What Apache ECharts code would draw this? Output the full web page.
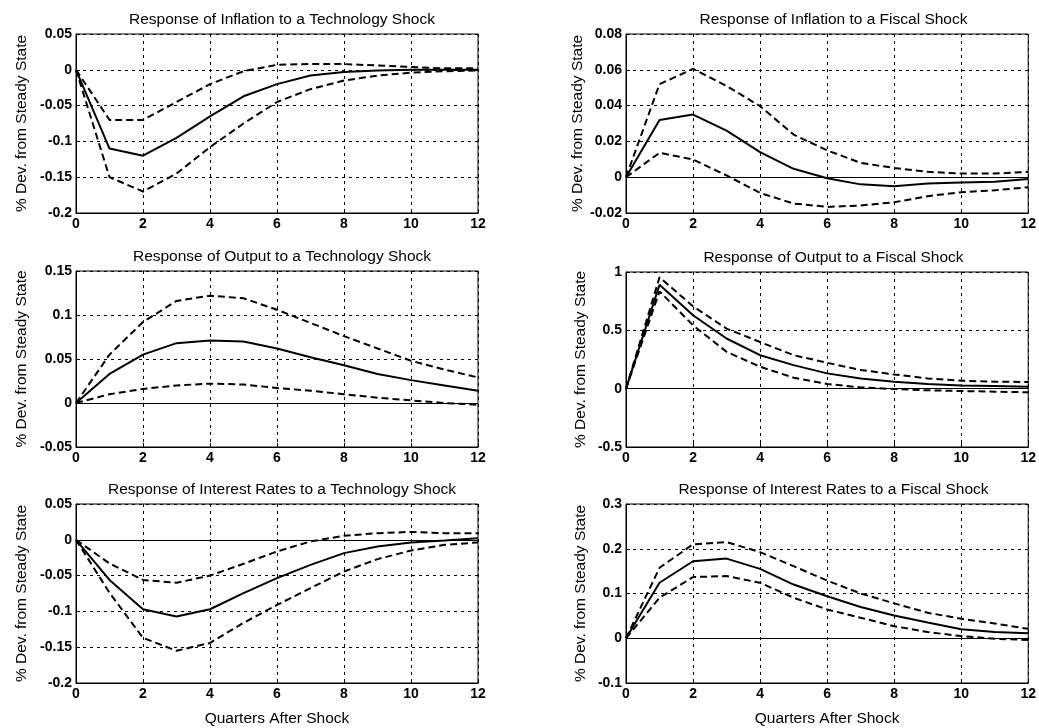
<!DOCTYPE html>
<html>
<head>
<meta charset="utf-8">
<script src="https://cdn.jsdelivr.net/npm/echarts@6/dist/echarts.min.js"></script>
<style>
html,body{margin:0;padding:0;background:#fff;}
#chart{width:1039px;height:728px;}
</style>
</head>
<body>
<div id="chart"></div>
<script>
const quarters = [0,1,2,3,4,5,6,7,8,9,10,11,12];
const xTicks = [0,2,4,6,8,10,12];

const titles = [
  "Response of Inflation to a Technology Shock",
  "Response of Inflation to a Fiscal Shock",
  "Response of Output to a Technology Shock",
  "Response of Output to a Fiscal Shock",
  "Response of Interest Rates to a Technology Shock",
  "Response of Interest Rates to a Fiscal Shock"
];
const yLabel = "% Dev. from Steady State";
const xLabel = "Quarters After Shock";

// Inflation / technology
const infTechMean  = [0,-0.110,-0.120,-0.095,-0.065,-0.037,-0.020,-0.008,-0.003,-0.001,0,0,0];
const infTechUpper = [0,-0.070,-0.070,-0.045,-0.020,-0.002,0.007,0.008,0.008,0.006,0.004,0.002,0.002];
const infTechLower = [0,-0.150,-0.170,-0.145,-0.108,-0.075,-0.045,-0.027,-0.015,-0.008,-0.004,-0.002,-0.001];
// Inflation / fiscal
const infFiscMean  = [0,0.032,0.035,0.026,0.014,0.0047,-0.0006,-0.004,-0.005,-0.0035,-0.003,-0.0025,-0.001];
const infFiscUpper = [0,0.052,0.0605,0.051,0.0397,0.0238,0.015,0.008,0.0052,0.003,0.002,0.002,0.003];
const infFiscLower = [0,0.0136,0.0099,0.001,-0.0088,-0.0147,-0.0166,-0.0158,-0.014,-0.0106,-0.0084,-0.0073,-0.0056];
// Output / technology
const outTechMean  = [0,0.033,0.055,0.068,0.071,0.070,0.062,0.052,0.043,0.033,0.026,0.020,0.014];
const outTechUpper = [0,0.055,0.092,0.116,0.122,0.119,0.106,0.091,0.076,0.062,0.048,0.038,0.029];
const outTechLower = [0,0.010,0.016,0.020,0.022,0.021,0.017,0.014,0.010,0.006,0.003,0.000,-0.002];
// Output / fiscal
const outFiscMean  = [0,0.890,0.629,0.430,0.287,0.202,0.131,0.088,0.060,0.040,0.028,0.023,0.017];
const outFiscUpper = [0,0.955,0.706,0.515,0.400,0.287,0.222,0.160,0.122,0.088,0.068,0.060,0.057];
const outFiscLower = [0,0.834,0.543,0.316,0.188,0.094,0.040,0.011,-0.003,-0.014,-0.020,-0.026,-0.031];
// Interest rates / technology
const irTechMean  = [0,-0.056,-0.097,-0.107,-0.097,-0.0745,-0.0535,-0.035,-0.0186,-0.0093,-0.0037,-0.001,0.002];
const irTechUpper = [0,-0.033,-0.056,-0.060,-0.050,-0.0335,-0.0163,-0.0023,0.0056,0.0093,0.011,0.0093,0.0093];
const irTechLower = [0,-0.074,-0.137,-0.155,-0.144,-0.116,-0.091,-0.0675,-0.0442,-0.027,-0.015,-0.007,-0.0037];
// Interest rates / fiscal
const irFiscMean  = [0,0.124,0.172,0.178,0.155,0.120,0.094,0.070,0.051,0.035,0.020,0.014,0.011];
const irFiscUpper = [0,0.1575,0.210,0.215,0.1926,0.161,0.129,0.100,0.078,0.057,0.0436,0.033,0.021];
const irFiscLower = [0,0.0905,0.1367,0.139,0.124,0.0905,0.0644,0.0458,0.027,0.0138,0.0048,-0.001,-0.004];

const panelData = [
  [infTechMean, infTechUpper, infTechLower],
  [infFiscMean, infFiscUpper, infFiscLower],
  [outTechMean, outTechUpper, outTechLower],
  [outFiscMean, outFiscUpper, outFiscLower],
  [irTechMean, irTechUpper, irTechLower],
  [irFiscMean, irFiscUpper, irFiscLower]
];
const yRanges = [
  [-0.2, 0.05, 0.05],
  [-0.02, 0.08, 0.02],
  [-0.05, 0.15, 0.05],
  [-0.5, 1, 0.5],
  [-0.2, 0.05, 0.05],
  [-0.1, 0.3, 0.1]
];
const zeroLine = [false, true, true, true, true, true];

const layout = [
  {left:76, top:34, width:402, height:179},
  {left:626, top:34, width:405, height:179},
  {left:76, top:271, width:402, height:176},
  {left:626, top:272, width:405, height:175},
  {left:76, top:504, width:402, height:179},
  {left:626, top:504, width:405, height:179}
];
const yNameGap = [46, 37, 46, 37, 46, 37];

const font = "'Liberation Sans', Arial, sans-serif";
const grids = [], xAxes = [], yAxes = [], series = [], titleArr = [];

function fmt(v){
  if (v === 0) return '0';
  return String(Math.round(v*10000)/10000);
}

layout.forEach((g, i) => {
  grids.push({left:g.left, top:g.top, width:g.width, height:g.height, show:true, borderColor:'#000', borderWidth:1, backgroundColor:'#fff'});
  titleArr.push({
    text: titles[i],
    left: g.left + g.width/2, top: g.top - 27,
    textAlign: 'center',
    textStyle: {fontFamily: font, fontSize: 15.5, fontWeight: 'normal', color:'#000'}
  });
  const bottomRow = i >= 4;
  xAxes.push({
    gridIndex: i, type:'value', min:0, max:12, interval:2,
    axisLine:{show:true, onZero:false, lineStyle:{color:'#000', width:1}},
    axisTick:{show:true, inside:true, length:4, lineStyle:{color:'#000'}},
    axisLabel:{color:'#000', fontFamily:font, fontSize:14, fontWeight:'bold', margin:4},
    splitLine:{show:true, lineStyle:{color:'#000', width:1, type:[3,4]}},
    name: bottomRow ? xLabel : '',
    nameLocation:'middle', nameGap: 28,
    nameTextStyle:{color:'#000', fontFamily:font, fontSize:15.5}
  });
  const r = yRanges[i];
  yAxes.push({
    gridIndex: i, type:'value', min:r[0], max:r[1], interval:r[2],
    axisLine:{show:true, onZero:false, lineStyle:{color:'#000', width:1}},
    axisTick:{show:true, inside:true, length:4, lineStyle:{color:'#000'}},
    axisLabel:{color:'#000', fontFamily:font, fontSize:14, fontWeight:'bold', margin:4, formatter: fmt},
    splitLine:{show:true, lineStyle:{color:'#000', width:1, type:[3,4]}},
    name: yLabel, nameLocation:'middle', nameGap: yNameGap[i], nameRotate: 90,
    nameTextStyle:{color:'#000', fontFamily:font, fontSize:15.5}
  });
  const [mean, upper, lower] = panelData[i];
  const toXY = arr => arr.map((v, k) => [quarters[k], v]);
  const meanSeries = {
    type:'line', xAxisIndex:i, yAxisIndex:i, data: toXY(mean),
    symbol:'none', lineStyle:{color:'#000', width:2, type:'solid'}, z:5, animation:false
  };
  if (zeroLine[i]) {
    meanSeries.markLine = {
      silent:true, symbol:'none', label:{show:false},
      lineStyle:{color:'#000', width:1, type:'solid'},
      data:[{yAxis:0}], animation:false
    };
  }
  series.push(meanSeries);
  [upper, lower].forEach(arr => {
    series.push({
      type:'line', xAxisIndex:i, yAxisIndex:i, data: toXY(arr),
      symbol:'none', lineStyle:{color:'#000', width:2, type:[7,4]}, z:4, animation:false
    });
  });
});

const chart = echarts.init(document.getElementById('chart'), null, {renderer:'canvas'});
chart.setOption({
  backgroundColor:'#fff',
  animation:false,
  title: titleArr,
  grid: grids,
  xAxis: xAxes,
  yAxis: yAxes,
  series: series
});
</script>
</body>
</html>
